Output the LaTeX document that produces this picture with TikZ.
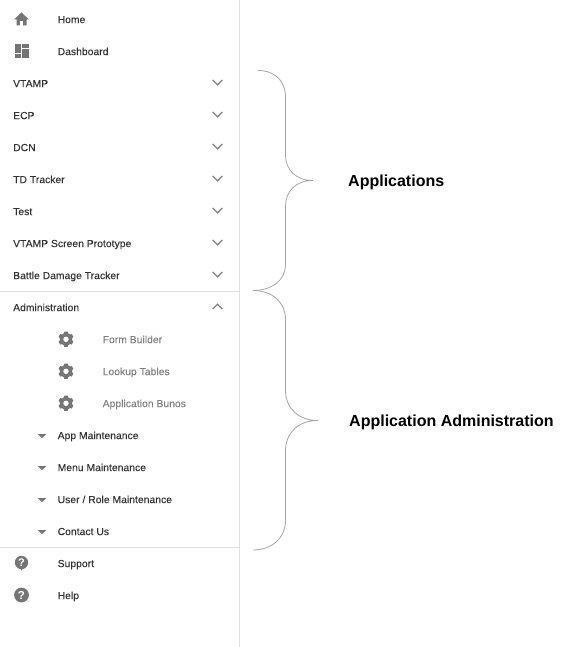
\documentclass[tikz,border=0pt]{standalone}
\usepackage{fontspec}
\setmainfont{Liberation Sans}[LetterSpace=0.5,FakeBold=0.12]
\newfontfamily\labelfont{Liberation Sans}
\definecolor{menutext}{HTML}{333333}
\definecolor{subtext}{HTML}{808080}
\definecolor{iconcol}{HTML}{757575}
\definecolor{chevcol}{HTML}{808080}
\definecolor{rulecol}{HTML}{E0E0E0}
\definecolor{bracecol}{HTML}{A4A4A4}
\tikzset{
  menuitem/.style={anchor=base west,inner sep=0pt,text=menutext,font=\fontsize{10.3}{12}\selectfont},
  subitem/.style={menuitem,text=subtext},
  biglabel/.style={anchor=base west,inner sep=0pt,text=black,font=\labelfont\bfseries\fontsize{16}{19}\selectfont},
  rulestyle/.style={draw=rulecol,line width=1pt},
  bracestyle/.style={draw=bracecol,line width=0.8pt},
  chevron/.style={draw=chevcol,line width=1.3pt},
  iconfill/.style={fill=iconcol,draw=none}
}
\newcommand{\gearicon}[1]{%
  \begin{scope}[shift={(#1)}]
    \fill[iconcol] (30-12:7.8) \foreach \a in {30,90,...,330} {
      -- (\a-12:7.8) -- (\a+12:7.8) -- (\a+20:6.3) -- (\a+40:6.3) } -- cycle;
    \fill[white] (0,0) circle (2.7);
  \end{scope}}
\newcommand{\chevdown}[1]{\draw[chevron,shift={(#1)}] (-4.8,-2.5) -- (0,2.3) -- (4.8,-2.5);}
\newcommand{\chevup}[1]{\draw[chevron,shift={(#1)}] (-4.8,2.5) -- (0,-2.3) -- (4.8,2.5);}
\newcommand{\caret}[1]{\fill[iconcol,shift={(#1)}] (-4.5,-1.5) -- (4.5,-1.5) -- (0,2.5) -- cycle;}
\begin{document}
\begin{tikzpicture}[x=1pt,y=-1pt]
\useasboundingbox (0,0) rectangle (571,647);
% panel rules
\draw[rulestyle] (239.5,0) -- (239.5,647);
\draw[rulestyle] (0,291.5) -- (239.5,291.5);
\draw[rulestyle] (0,547.5) -- (239.5,547.5);
% menu text
\node[menuitem] (home) at (57.5,23.1) {Home};
\node[menuitem] (dash) at (57.5,55.1) {Dashboard};
\node[menuitem] (vtamp) at (13,87.1) {VTAMP};
\node[menuitem] (ecp) at (13,119.1) {ECP};
\node[menuitem] (dcn) at (13,151.1) {DCN};
\node[menuitem] (td) at (13,183.1) {TD Tracker};
\node[menuitem] (test) at (13,215.1) {Test};
\node[menuitem] (proto) at (13,247.1) {VTAMP Screen Prototype};
\node[menuitem] (battle) at (13,279.1) {Battle Damage Tracker};
\node[menuitem] (admin) at (13,311.1) {Administration};
\node[subitem] (form) at (102.5,343.1) {Form Builder};
\node[subitem] (lookup) at (102.5,375.1) {Lookup Tables};
\node[subitem] (bunos) at (102.5,407.1) {Application Bunos};
\node[menuitem] (app) at (57.5,439.1) {App Maintenance};
\node[menuitem] (menu) at (57.5,471.1) {Menu Maintenance};
\node[menuitem] (user) at (57.5,503.1) {User / Role Maintenance};
\node[menuitem] (contact) at (57.5,535.1) {Contact Us};
\node[menuitem] (support) at (57.5,567.1) {Support};
\node[menuitem] (help) at (57.5,599.1) {Help};
% home icon
\fill[iconcol] (21.5,12.5) -- (29,19.5) -- (26.5,19.5) -- (26.5,25.5) -- (23.2,25.5) -- (23.2,21) -- (19.8,21) -- (19.8,25.5) -- (16.5,25.5) -- (16.5,19.5) -- (14,19.5) -- cycle;
% dashboard icon
\fill[iconcol] (15,44) rectangle (21.3,53);
\fill[iconcol] (15,54) rectangle (21.3,58.2);
\fill[iconcol] (22.3,44) rectangle (28.5,48.5);
\fill[iconcol] (22.3,49.5) rectangle (28.5,58.2);
% chevrons
\chevdown{217.5,82.5}
\chevdown{217.5,114.5}
\chevdown{217.5,146.5}
\chevdown{217.5,178.5}
\chevdown{217.5,210.5}
\chevdown{217.5,242.5}
\chevdown{217.5,274.5}
\chevup{217.5,306.5}
% gears
\gearicon{66,339.3}
\gearicon{66,371.3}
\gearicon{66,403.3}
% carets
\caret{42,435.5}
\caret{42,467.5}
\caret{42,499.5}
\caret{42,531.5}
% support and help icons
\fill[iconcol] (21.5,562.5) circle (6.7);
\fill[iconcol] (19.5,567) -- (23.5,567) -- (21.5,570.5) -- cycle;
\node[inner sep=0pt,text=white,font=\labelfont\bfseries\fontsize{11}{12}\selectfont] (supq) at (21.5,562.5) {?};
\fill[iconcol] (21.5,595) circle (7.4);
\node[inner sep=0pt,text=white,font=\labelfont\bfseries\fontsize{11.5}{12}\selectfont] (helpq) at (21.5,595) {?};
% braces
\draw[bracestyle] (258,70.5) .. controls (275,70.5) and (285.5,81) .. (285.5,97)
  -- (285.5,155) .. controls (285.5,170) and (296,180.5) .. (313,180.5)
  .. controls (296,180.5) and (285.5,191) .. (285.5,206)
  -- (285.5,265) .. controls (285.5,280) and (272,290.5) .. (253,290.5);
\draw[bracestyle] (253,290.5) .. controls (272,290.5) and (285.5,302) .. (285.5,320)
  -- (285.5,390) .. controls (285.5,408) and (298,420.5) .. (318,420.5)
  .. controls (298,420.5) and (285.5,433) .. (285.5,451)
  -- (285.5,520) .. controls (285.5,538) and (272,550) .. (253,550);
% labels
\node[biglabel] (apps) at (348,186) {Applications};
\node[biglabel] (appadmin) at (349,426) {Application Administration};
\end{tikzpicture}
\end{document}
